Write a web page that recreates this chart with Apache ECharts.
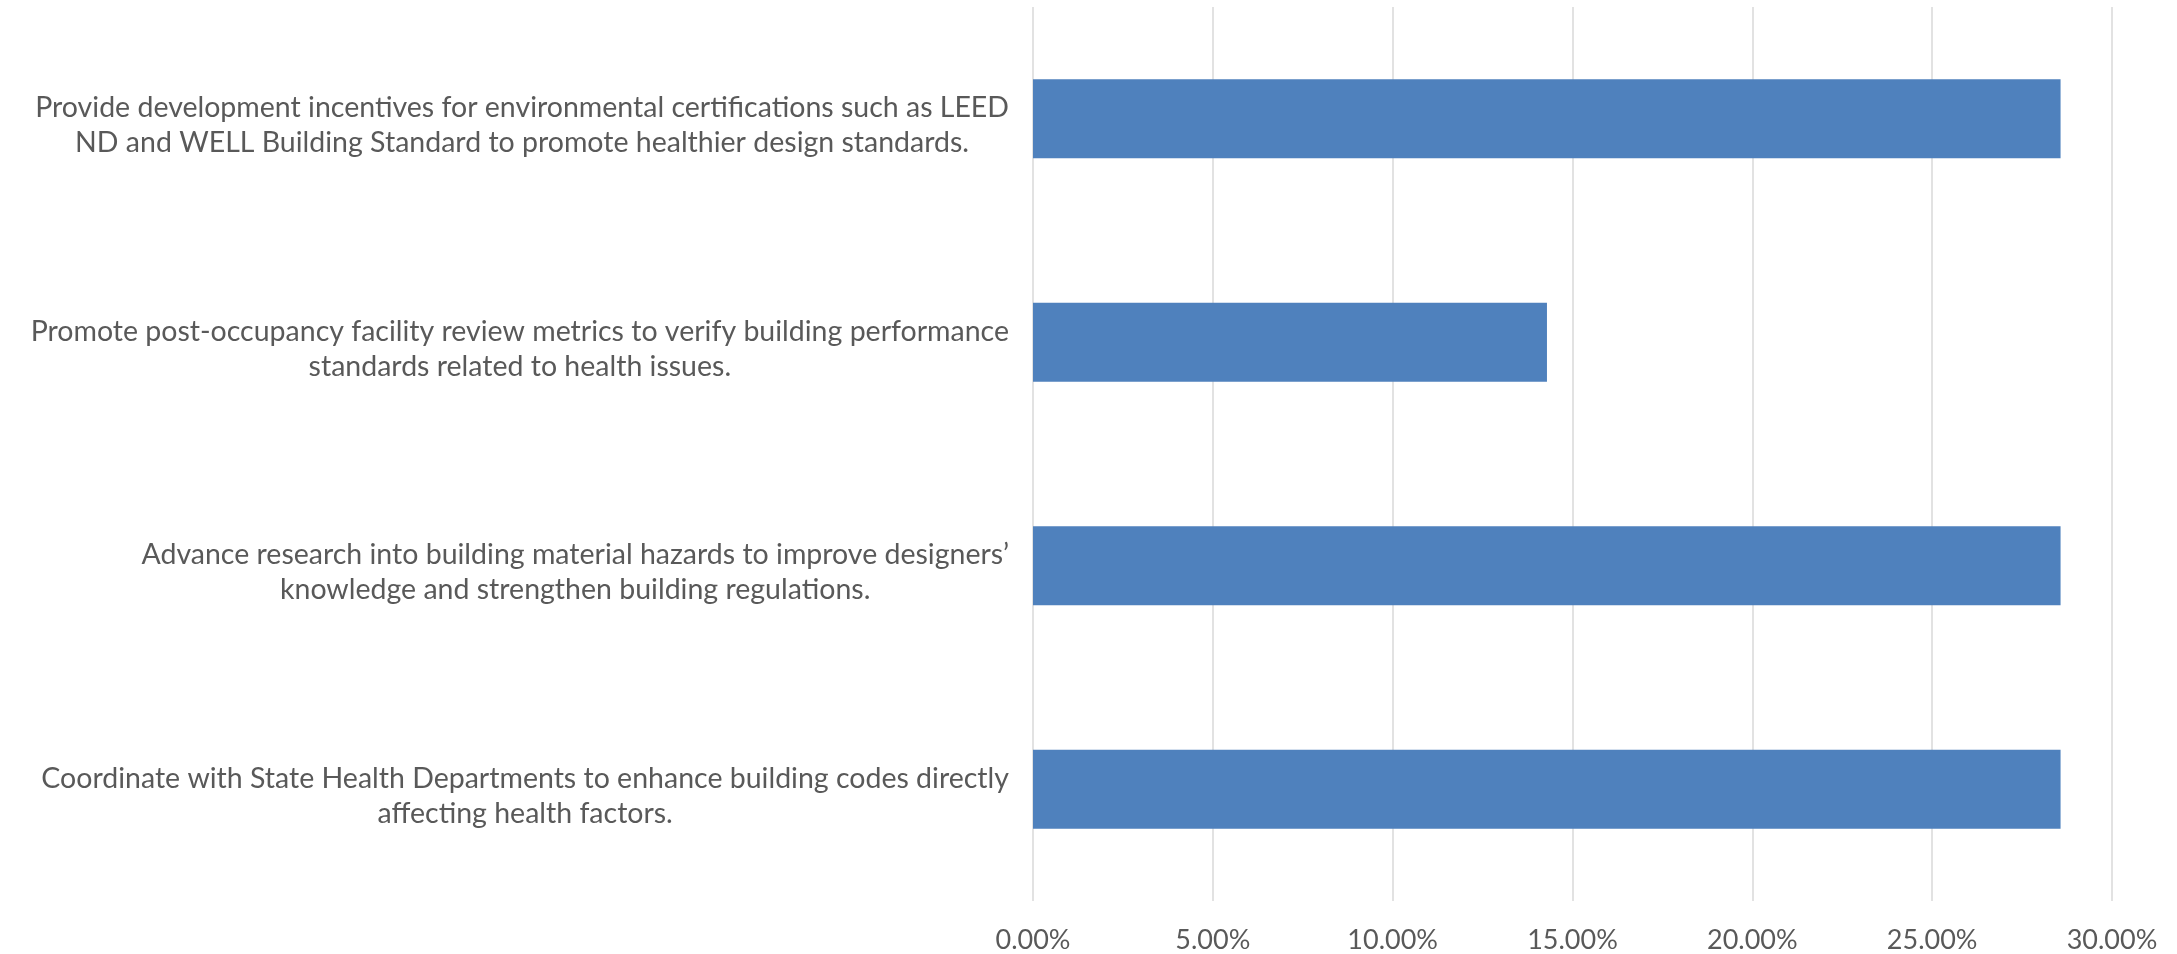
<!DOCTYPE html>
<html>
<head>
<meta charset="utf-8">
<script src="https://cdn.jsdelivr.net/npm/echarts@6/dist/echarts.min.js"></script>
<style>
    html, body { margin: 0; padding: 0; background: #fff; }
    #chartWrapper { width: 2177px; height: 954px; }
</style>
</head>
<body>
<div id="chartWrapper"></div>
<script>
// categories, top to bottom (line breaks as in the picture)
let categories = [
    'Provide development incentives for environmental certifications such as LEED\nND and WELL Building Standard to promote healthier design standards.',
    'Promote post-occupancy facility review metrics to verify building performance\nstandards related to health issues.',
    'Advance research into building material hazards to improve designers\u2019\nknowledge and strengthen building regulations.',
    'Coordinate with State Health Departments to enhance building codes directly\naffecting health factors.'
];
let shares = [28.57, 14.29, 28.57, 28.57];
let tickValues = [0, 5, 10, 15, 20, 25, 30];

function initChart() {
    let myChart = echarts.init(document.getElementById('chartWrapper'));

    let option = {
        animation: false,
        grid: {
            left: 1033,
            right: 65,
            top: 7,
            bottom: 51
        },
        xAxis: {
            type: 'value',
            min: tickValues[0],
            max: tickValues[tickValues.length - 1],
            interval: 5,
            axisLine: { show: false },
            axisTick: { show: false },
            splitLine: {
                show: true,
                lineStyle: { color: '#d9d9d9', width: 1.5 }
            },
            axisLabel: {
                color: '#595959',
                fontFamily: 'Lato',
                fontSize: 27,
                margin: 26,
                formatter: function (v) {
                    return v.toFixed(2) + '%';
                }
            }
        },
        yAxis: {
            type: 'category',
            inverse: true,
            data: categories,
            axisLine: { show: false },
            axisTick: { show: false },
            axisLabel: {
                align: 'right',
                margin: 24,
                padding: [14, 0, 0, 0],
                formatter: function (v) {
                    // each line centred inside the right-aligned block
                    return v.split('\n').map(function (s) {
                        return '{t|' + s + '}';
                    }).join('\n');
                },
                rich: {
                    t: {
                        align: 'center',
                        color: '#595959',
                        fontFamily: 'Lato',
                        fontSize: 28.5,
                        lineHeight: 35
                    }
                }
            }
        },
        series: [{
            type: 'bar',
            data: shares,
            barWidth: 79,
            itemStyle: { color: '#4f81bd' }
        }]
    };

    myChart.setOption(option);
}

initChart();
</script>
</body>
</html>
